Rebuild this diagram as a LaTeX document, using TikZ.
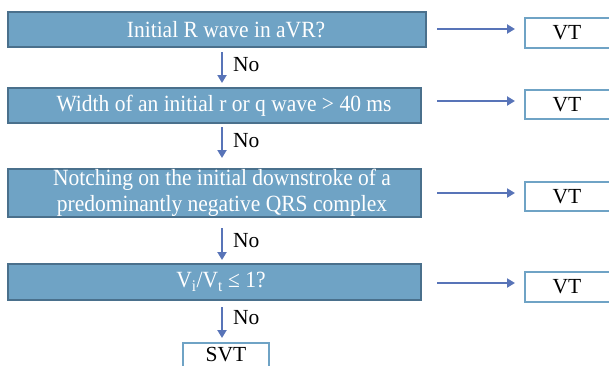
\documentclass[tikz,border=0pt]{standalone}
\usepackage{fontspec}
\setmainfont{Liberation Serif}
\usetikzlibrary{arrows.meta}
\definecolor{boxfill}{RGB}{111,163,197}
\definecolor{boxline}{RGB}{74,112,140}
\definecolor{arrcol}{RGB}{88,116,184}
\tikzset{
  qbox/.style={draw=boxline, line width=2.6pt, fill=boxfill, inner sep=0pt},
  qtext/.style={text=white, font=\fontsize{21.5}{24}\selectfont, align=center, inner sep=0pt, yscale=1.08},
  abox/.style={draw=boxfill, line width=2.4pt, fill=white, inner sep=0pt, font=\fontsize{21.5}{22}\selectfont},
  arr/.style={draw=arrcol, line width=2.6pt, -{Triangle[length=8pt,width=9pt]}},
  nolab/.style={font=\fontsize{21.5}{22}\selectfont, anchor=west, inner sep=0pt},
}
\begin{document}
\begin{tikzpicture}[x=1pt,y=-1pt]
\useasboundingbox (0,0) rectangle (609,365);
% question boxes
\node[qbox, minimum width=418pt, minimum height=35pt] (b1) at (217,29.5) {};
\node[qbox, minimum width=413pt, minimum height=35pt] (b2) at (214.5,105.5) {};
\node[qbox, minimum width=413pt, minimum height=48pt] (b3) at (214.5,193) {};
\node[qbox, minimum width=413pt, minimum height=36pt] (b4) at (214.5,282) {};
\node[qtext] (t1) at (226,29.5) {Initial R wave in aVR?};
\node[qtext] (t2) at (224,105.5) {Width of an initial r or q wave > 40 ms};
\node[qtext] (t3) at (222,193) {Notching on the initial downstroke of a\\predominantly negative QRS complex};
\node[qtext] (t4) at (221,282) {V\textsubscript{i}/V\textsubscript{t} ≤ 1?};
% answer boxes
\node[abox, minimum width=88pt, minimum height=30pt] (v1) at (569,33) {\hspace*{-4pt}VT};
\node[abox, minimum width=88pt, minimum height=29pt] (v2) at (569,104.5) {\hspace*{-4pt}VT};
\node[abox, minimum width=88pt, minimum height=29pt] (v3) at (569,196.5) {\hspace*{-4pt}VT};
\node[abox, minimum width=88pt, minimum height=30pt] (v4) at (569,287) {\hspace*{-4pt}VT};
\node[abox, minimum width=86pt, minimum height=26pt] (svt) at (226,356) {\raisebox{4pt}{SVT}};
% horizontal arrows
\foreach \i/\y in {1/29,2/101,3/193,4/283}{
  \coordinate (h\i s) at (437,\y);
  \coordinate (h\i e) at (515,\y);
  \draw[arr] (h\i s) -- (h\i e);
}
% down arrows
\coordinate (d1s) at (222,52);  \coordinate (d1e) at (222,83);
\coordinate (d2s) at (222,127); \coordinate (d2e) at (222,158);
\coordinate (d3s) at (222,228); \coordinate (d3e) at (222,260);
\coordinate (d4s) at (222,307); \coordinate (d4e) at (222,338);
\draw[arr] (d1s) -- (d1e);
\draw[arr] (d2s) -- (d2e);
\draw[arr] (d3s) -- (d3e);
\draw[arr] (d4s) -- (d4e);
\node[nolab] (n1) at (233,65) {No};
\node[nolab] (n2) at (233,141) {No};
\node[nolab] (n3) at (233,241) {No};
\node[nolab] (n4) at (233,318) {No};
\end{tikzpicture}
\end{document}
